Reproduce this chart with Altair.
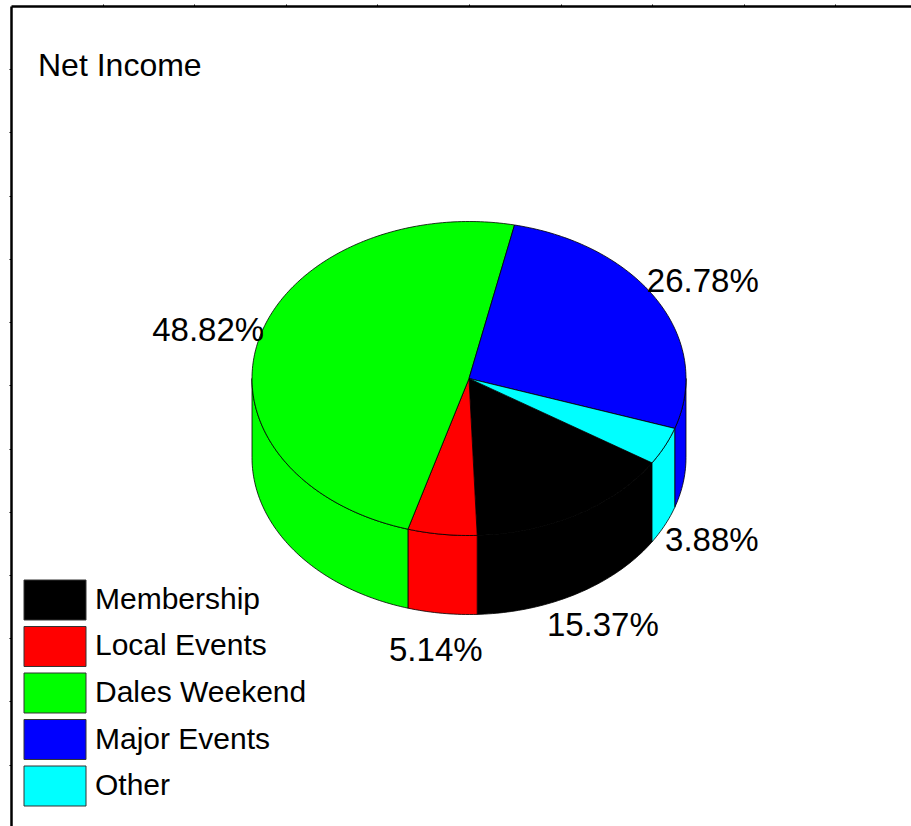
import math
import altair as alt
import pandas as pd

# ---- data ----
categories = ["Membership", "Local Events", "Dales Weekend", "Major Events", "Other"]
shares = [15.37, 5.14, 48.82, 26.78, 3.88]
pct_labels = ["15.37%", "5.14%", "48.82%", "26.78%", "3.88%"]
colors = ["#000000", "#ff0000", "#00ff00", "#0000ff", "#00ffff"]
title_text = "Net Income"

# ---- pie geometry (unit radius, tilted) ----
START_DEG = 122.5          # where the first slice starts, clockwise from 12 o'clock
TILT = 157.0 / 217.0       # vertical squash of the top ellipse
DEPTH = 79.0 / 217.0       # thickness of the pie
LABEL_R = 1.24
FONT = "Liberation Sans Narrow, Arial Narrow, Liberation Sans, Arial, sans-serif"


def pt(theta_deg, r=1.0, drop=0.0):
    t = math.radians(theta_deg)
    return [r * math.sin(t), -r * math.cos(t) * TILT + drop]


def arc(a, b, r=1.0, drop=0.0):
    n = max(2, int(abs(b - a)) + 1)
    return [pt(a + (b - a) * i / (n - 1), r, drop) for i in range(n)]


total = sum(shares)
spans = []
acc = START_DEG
for s in shares:
    a = acc
    b = acc + s / total * 360.0
    spans.append((a, b))
    acc = b

walls, tops = [], []
for cat, (a, b) in zip(categories, spans):
    # visible front wall: angles within [90, 270] (mod 360)
    for off in (0.0, 360.0, -360.0):
        lo = max(a, 90.0 + off)
        hi = min(b, 270.0 + off)
        if hi > lo:
            ring = arc(lo, hi) + arc(hi, lo, drop=DEPTH)
            ring.append(ring[0])
            walls.append({"type": "Feature", "properties": {"cat": cat},
                          "geometry": {"type": "Polygon", "coordinates": [ring]}})
    ring = [[0.0, 0.0]] + arc(a, b) + [[0.0, 0.0]]
    tops.append({"type": "Feature", "properties": {"cat": cat},
                 "geometry": {"type": "Polygon", "coordinates": [ring]}})

features = walls + tops

lab_rows = []
for cat, lab, (a, b) in zip(categories, pct_labels, spans):
    m = (a + b) / 2.0
    x, y = pt(m, LABEL_R)
    if math.cos(math.radians(m)) < 0:
        y += DEPTH
    lab_rows.append({"cat": cat, "label": lab, "lon": x, "lat": y})
lab_df = pd.DataFrame(lab_rows)
leg_df = pd.DataFrame({"cat": categories})

PROJ = dict(type="identity", scale=217, translate=[458, 372.5])
color_scale = alt.Scale(domain=categories, range=colors)

pie = alt.Chart(alt.Data(values=features)).mark_geoshape(
    stroke="black", strokeWidth=0.8
).encode(
    color=alt.Color("properties.cat:N", scale=color_scale, legend=None)
).project(**PROJ)

text = alt.Chart(lab_df).mark_text(
    font=FONT, fontSize=33, color="black", align="center", baseline="middle"
).encode(
    longitude="lon:Q", latitude="lat:Q", text="label:N"
).project(**PROJ)

frame = alt.Chart(alt.Data(values=[{"a": 0, "b": 0}])).mark_point(opacity=0).encode(
    x=alt.X("a:Q", scale=alt.Scale(domain=[0, 9.826], nice=False, zero=False),
            axis=alt.Axis(orient="top", values=list(range(1, 10)), labels=False, title=None,
                          grid=False, tickSize=2, tickColor="black", domainColor="black",
                          domainWidth=2.5)),
    y=alt.Y("b:Q", scale=alt.Scale(domain=[0, 12.97], reverse=True, nice=False, zero=False),
            axis=alt.Axis(values=list(range(1, 13)), labels=False, title=None,
                          grid=False, tickSize=2, tickColor="black", domainColor="black",
                          domainWidth=2.5)),
)

# legend: swatches + labels on a band scale
leg_y = alt.Y("cat:N", sort=categories, axis=None,
              scale=alt.Scale(domain=categories, range=[574, 800],
                              paddingInner=0.14, paddingOuter=0))
leg_rect = alt.Chart(leg_df).mark_rect(stroke="#333333", strokeWidth=1).encode(
    y=leg_y, x=alt.value(13), x2=alt.value(75),
    color=alt.Color("cat:N", scale=color_scale, legend=None),
)
leg_text = alt.Chart(leg_df).mark_text(
    font=FONT, fontSize=30, color="black", align="left", baseline="middle"
).encode(y=leg_y, x=alt.value(84), text="cat:N")
legend = alt.layer(leg_rect, leg_text)

chart = alt.layer(frame, pie, text, legend).resolve_scale(y="independent").properties(
    width=900, height=820,
    padding={"left": 11, "top": 6, "right": 0, "bottom": 0},
    autosize=alt.AutoSizeParams(type="none"),
    title=alt.TitleParams(title_text, anchor="start", frame="group", font=FONT,
                          fontSize=32, fontWeight="normal", color="black",
                          baseline="alphabetic", offset=0, dx=27, dy=105),
    background="white",
).configure_view(stroke=None)

chart.save("out.html", embed_options={"renderer": "svg", "actions": False})
